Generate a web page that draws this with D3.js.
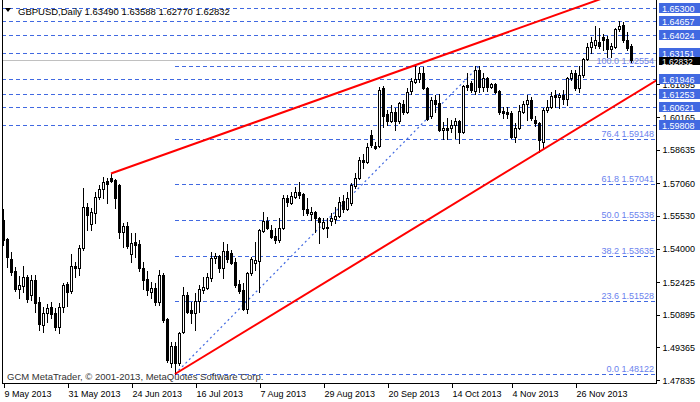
<!DOCTYPE html>
<html><head><meta charset="utf-8">
<script src="https://cdn.jsdelivr.net/npm/d3@7"></script>
<style>
body{margin:0;background:#fff}
svg{display:block}
text{font-family:"Liberation Sans",Arial,sans-serif}
</style>
</head><body>
<svg id="c" width="700" height="402"></svg>
<script>
// ---------- data ----------
const symbol = "GBPUSD,Daily";
const headerValues = [1.63490, 1.63588, 1.62770, 1.62832];
const firstDate = "2013-05-09";
const open = [1.5534,1.5445,1.5352,1.5295,1.5211,1.5225,1.5267,1.5183,1.5253,1.5150,
1.5042,1.5098,1.5126,1.5098,1.5032,1.5126,1.5234,1.5201,1.5319,1.5309,
1.5402,1.5595,1.5515,1.5567,1.5642,1.5680,1.5717,1.5731,1.5722,1.5699,
1.5478,1.5506,1.5375,1.5431,1.5421,1.5309,1.5258,1.5197,1.5216,1.5150,
1.5277,1.5070,1.4864,1.4944,1.4864,1.5010,1.5183,1.5112,1.5098,1.5154,
1.5206,1.5216,1.5262,1.5356,1.5366,1.5309,1.5389,1.5380,1.5338,1.5234,
1.5206,1.5117,1.5286,1.5333,1.5342,1.5482,1.5529,1.5487,1.5459,1.5440,
1.5496,1.5637,1.5614,1.5642,1.5666,1.5656,1.5586,1.5562,1.5572,1.5543,
1.5496,1.5501,1.5529,1.5539,1.5553,1.5623,1.5586,1.5614,1.5694,1.5731,
1.5816,1.5806,1.5933,1.5883,1.5883,1.6153,1.6031,1.5998,1.6041,1.5998,
1.6078,1.6041,1.6139,1.6181,1.6195,1.6223,1.6153,1.6022,1.6097,1.6083,
1.5956,1.5965,1.5965,1.5980,1.5998,1.5947,1.6167,1.6177,1.6139,1.6237,
1.6158,1.6200,1.6158,1.6172,1.6139,1.6045,1.6041,1.6036,1.5923,1.5965,
1.6041,1.6078,1.6097,1.6003,1.5989,1.5899,1.6050,1.6064,1.6120,1.6111,
1.6120,1.6101,1.6200,1.6223,1.6153,1.6214,1.6289,1.6345,1.6355,1.6369,
1.6392,1.6383,1.6336,1.6345,1.6430,1.6448,1.6378,1.63490];
const high = [1.5586,1.5449,1.5385,1.5314,1.5272,1.5319,1.5277,1.5277,1.5277,1.5173,
1.5126,1.5140,1.5150,1.5121,1.5145,1.5239,1.5244,1.5375,1.5338,1.5417,
1.5684,1.5614,1.5590,1.5666,1.5699,1.5736,1.5731,1.5752,1.5726,1.5703,
1.5520,1.5525,1.5473,1.5473,1.5440,1.5338,1.5295,1.5244,1.5239,1.5300,
1.5286,1.5075,1.4962,1.4962,1.5010,1.5220,1.5197,1.5150,1.5192,1.5230,
1.5267,1.5286,1.5385,1.5380,1.5371,1.5431,1.5421,1.5394,1.5356,1.5253,
1.5239,1.5291,1.5361,1.5431,1.5492,1.5572,1.5548,1.5511,1.5496,1.5543,
1.5651,1.5651,1.5666,1.5689,1.5713,1.5661,1.5637,1.5595,1.5576,1.5548,
1.5543,1.5543,1.5567,1.5595,1.5642,1.5651,1.5666,1.5708,1.5755,1.5830,
1.5844,1.5895,1.5957,1.5902,1.6158,1.6163,1.6050,1.6073,1.6059,1.6087,
1.6097,1.6153,1.6200,1.6255,1.6250,1.6250,1.6158,1.6111,1.6120,1.6125,
1.5994,1.6012,1.6003,1.6012,1.6003,1.6167,1.6223,1.6186,1.6255,1.6255,
1.6223,1.6205,1.6177,1.6177,1.6144,1.6064,1.6064,1.6045,1.5989,1.6073,
1.6092,1.6120,1.6111,1.6022,1.5994,1.6059,1.6097,1.6134,1.6144,1.6130,
1.6144,1.6205,1.6237,1.6237,1.6255,1.6294,1.6364,1.6392,1.6444,1.6434,
1.6406,1.6397,1.6364,1.6434,1.6466,1.6462,1.6415,1.63588];
const low = [1.5417,1.5314,1.5277,1.5201,1.5168,1.5197,1.5150,1.5159,1.5103,1.5019,
1.5010,1.5056,1.5074,1.5019,1.5005,1.5103,1.5131,1.5192,1.5267,1.5277,
1.5394,1.5487,1.5487,1.5520,1.5633,1.5637,1.5614,1.5713,1.5590,1.5449,
1.5407,1.5402,1.5338,1.5361,1.5295,1.5211,1.5183,1.5168,1.5135,1.5135,
1.5056,1.4868,1.4845,1.48122,1.4855,1.5004,1.5098,1.5051,1.5019,1.5103,
1.5192,1.5211,1.5248,1.5333,1.5291,1.5262,1.5338,1.5328,1.5220,1.5192,
1.5112,1.5098,1.5277,1.5300,1.5197,1.5478,1.5492,1.5449,1.5426,1.5431,
1.5492,1.5600,1.5610,1.5637,1.5637,1.5558,1.5558,1.5534,1.5478,1.5426,
1.5492,1.5454,1.5511,1.5520,1.5548,1.5572,1.5581,1.5605,1.5684,1.5726,
1.5778,1.5801,1.5877,1.5868,1.5878,1.5970,1.5980,1.5994,1.5956,1.5989,
1.6031,1.6036,1.6125,1.6177,1.6181,1.6148,1.6003,1.6012,1.6041,1.5951,
1.5914,1.5914,1.5947,1.5919,1.5895,1.5942,1.6144,1.6134,1.6125,1.6134,
1.6139,1.6139,1.6153,1.6130,1.6031,1.6012,1.6012,1.5919,1.5899,1.5961,
1.6036,1.6003,1.6003,1.5975,1.5853,1.5868,1.6041,1.6059,1.6064,1.6059,
1.6078,1.6073,1.6191,1.6144,1.6134,1.6205,1.6284,1.6317,1.6341,1.6341,
1.6331,1.6298,1.6298,1.6341,1.6420,1.6369,1.6331,1.62770];
const close = [1.5440,1.5361,1.5291,1.5211,1.5230,1.5267,1.5164,1.5253,1.5145,1.5046,
1.5098,1.5121,1.5093,1.5032,1.5126,1.5230,1.5197,1.5319,1.5309,1.5402,
1.5595,1.5558,1.5572,1.5642,1.5680,1.5713,1.5703,1.5717,1.5637,1.5478,
1.5506,1.5412,1.5426,1.5417,1.5309,1.5253,1.5206,1.5216,1.5150,1.5277,
1.5065,1.4878,1.4944,1.4864,1.5004,1.5183,1.5103,1.5098,1.5154,1.5211,
1.5220,1.5267,1.5356,1.5366,1.5309,1.5389,1.5352,1.5333,1.5230,1.5201,
1.5117,1.5286,1.5352,1.5347,1.5487,1.5529,1.5496,1.5454,1.5440,1.5496,
1.5637,1.5619,1.5647,1.5666,1.5651,1.5586,1.5567,1.5572,1.5543,1.5525,
1.5525,1.5496,1.5543,1.5553,1.5619,1.5586,1.5637,1.5699,1.5731,1.5816,
1.5806,1.5877,1.5887,1.5873,1.6144,1.6024,1.5998,1.6041,1.5998,1.6083,
1.6041,1.6134,1.6186,1.6195,1.6223,1.6153,1.6008,1.6097,1.6078,1.5956,
1.5965,1.5956,1.5980,1.5998,1.5947,1.6163,1.6158,1.6144,1.6237,1.6158,
1.6200,1.6158,1.6172,1.6134,1.6041,1.6036,1.6031,1.5923,1.5965,1.6045,
1.6078,1.6097,1.6012,1.5989,1.5909,1.6050,1.6064,1.6115,1.6111,1.6120,
1.6101,1.6200,1.6223,1.6153,1.6214,1.6289,1.6345,1.6369,1.6378,1.6350,
1.6378,1.6336,1.6350,1.6430,1.6444,1.6378,1.6341,1.62832];
const xTickDates = ["2013-05-09","2013-05-31","2013-06-24","2013-07-16","2013-08-07",
                    "2013-08-29","2013-09-20","2013-10-14","2013-11-04","2013-11-26"];
const yTickLabels = [1.47835,1.49365,1.50895,1.52425,1.54000,1.55530,1.57060,1.58635,
                     1.60165,1.61695];
const hLineLevels = [1.65300,1.64657,1.64024,1.63151,1.61946,1.61253,1.60621,1.59808];
const bidPrice = 1.62832;
const fibRatios = [0.0,23.6,38.2,50.0,61.8,76.4,100.0];
const fibAnchors = [[43,1.48122],[119,1.62554]];        // [bar index, price]
const trendUpper = [[27,1.5752],[103,1.6260]];
const trendLower = [[43,1.48122],[134,1.5853]];
const copyright = "GCM MetaTrader, \u00A9 2001-2013, MetaQuotes Software Corp.";

// ---------- layout ----------
const W = 700, H = 402;
const plotL = 2, plotR = 656, plotT = 0, plotB = 383;
const n = close.length;
const blue = "#4169E1";

const dates = [];
for (let d = d3.timeParse("%Y-%m-%d")(firstDate); dates.length < n; d = d3.timeDay.offset(d, 1)) {
  if (d.getDay() % 6 !== 0) dates.push(d);
}
const fmtKey = d3.timeFormat("%Y-%m-%d");
const idxOf = s => dates.findIndex(d => fmtKey(d) === s);

const x = d3.scaleBand().domain(d3.range(n)).range([1, 1 + 4 * n]).padding(0);
const cx = i => Math.round(x(i) + x.bandwidth() / 2);
const xi = d3.scaleLinear().domain([0, n - 1]).range([cx(0), cx(n - 1)]);
const y = d3.scaleLinear().domain([1.47700, 1.65656]).range([plotB, plotT]);
const Y = v => Math.round(y(v));

const svg = d3.select("#c");
svg.append("rect").attr("width", W).attr("height", H).attr("fill", "#fff");
svg.append("defs").append("clipPath").attr("id", "clip")
  .append("rect").attr("x", plotL).attr("y", plotT).attr("width", plotR - plotL).attr("height", plotB - plotT);
const plot = svg.append("g").attr("clip-path", "url(#clip)");

plot.selectAll("line.h").data(hLineLevels).join("line")
  .attr("x1", plotL).attr("x2", plotR)
  .attr("y1", d => Y(d) + 0.5).attr("y2", d => Y(d) + 0.5)
  .attr("stroke", blue).attr("stroke-dasharray", "4,3").attr("shape-rendering", "crispEdges");

plot.append("line").attr("x1", plotL).attr("x2", plotR)
  .attr("y1", Y(bidPrice) + 0.5).attr("y2", Y(bidPrice) + 0.5)
  .attr("stroke", "#c0c0c0").attr("shape-rendering", "crispEdges");

const fLo = fibAnchors[0][1], fHi = fibAnchors[1][1];
const fibLevels = fibRatios.map(r => ({ r, v: fLo + (fHi - fLo) * r / 100 }));
plot.selectAll("line.fib").data(fibLevels).join("line")
  .attr("x1", cx(fibAnchors[0][0])).attr("x2", plotR)
  .attr("y1", d => Y(d.v) + 0.5).attr("y2", d => Y(d.v) + 0.5)
  .attr("stroke", blue).attr("stroke-dasharray", "4,3").attr("shape-rendering", "crispEdges");
plot.selectAll("text.fib").data(fibLevels).join("text")
  .attr("x", plotR - 2).attr("y", d => Y(d.v) - 2)
  .attr("text-anchor", "end").attr("font-size", 9).attr("fill", "#6a82ee")
  .text(d => d.r.toFixed(1) + " " + d.v.toFixed(5));
plot.append("line")
  .attr("x1", cx(fibAnchors[0][0])).attr("y1", y(fibAnchors[0][1]))
  .attr("x2", cx(fibAnchors[1][0])).attr("y2", y(fibAnchors[1][1]))
  .attr("stroke", blue).attr("stroke-width", 1.2).attr("stroke-dasharray", "2,3");

const bars = plot.append("g").attr("shape-rendering", "crispEdges");
d3.range(n).forEach(i => {
  const c = cx(i);
  bars.append("line").attr("x1", c + 0.5).attr("x2", c + 0.5)
    .attr("y1", Y(high[i])).attr("y2", Y(low[i]) + 1).attr("stroke", "#000");
  const top = Y(Math.max(open[i], close[i])), bot = Y(Math.min(open[i], close[i]));
  if (close[i] >= open[i]) {
    bars.append("rect").attr("x", c - 0.5).attr("y", top + 0.5)
      .attr("width", 2).attr("height", Math.max(bot - top, 0))
      .attr("fill", "#fff").attr("stroke", "#000");
  } else {
    bars.append("rect").attr("x", c - 1).attr("y", top)
      .attr("width", 3).attr("height", Math.max(bot - top + 1, 1)).attr("fill", "#000");
  }
});

function ray(p) {
  const x0 = cx(p[0][0]), y0 = y(p[0][1]), x1 = cx(p[1][0]), y1 = y(p[1][1]);
  const k = (y1 - y0) / (x1 - x0);
  return [x0, y0, plotR + 20, y0 + k * (plotR + 20 - x0)];
}
[trendUpper, trendLower].forEach(t => {
  const r = ray(t);
  plot.append("line").attr("x1", r[0]).attr("y1", r[1]).attr("x2", r[2]).attr("y2", r[3])
    .attr("stroke", "#ff0000").attr("stroke-width", 2);
});

svg.append("path").attr("d", "M5,8 L11,8 L8,12 Z").attr("fill", "#000");
svg.append("text").attr("x", 18).attr("y", 15).attr("font-size", 9.5).attr("fill", "#000")
  .text(symbol + "  " + headerValues.map(v => v.toFixed(5)).join(" "));
svg.append("text").attr("x", 7).attr("y", 380).attr("font-size", 9.5).attr("fill", "#333")
  .text(copyright);

svg.append("line").attr("x1", plotL + 0.5).attr("x2", plotL + 0.5).attr("y1", 0).attr("y2", plotB)
  .attr("stroke", "#000").attr("shape-rendering", "crispEdges");

const fmtDate = d3.timeFormat("%-d %b %Y");
const xAxis = d3.axisBottom(xi)
  .tickValues(xTickDates.map(idxOf))
  .tickFormat(i => fmtDate(dates[i])).tickSize(4).tickSizeOuter(0);
const gx = svg.append("g").attr("transform", `translate(0,${plotB + 0.5})`).call(xAxis)
  .attr("shape-rendering", "crispEdges");
gx.select(".domain").attr("d", `M${plotL},0H${plotR + 1}`).attr("stroke", "#000");
gx.selectAll(".tick line").attr("stroke", "#000").attr("transform", "translate(0.5,0)");
gx.selectAll(".tick text").attr("text-anchor", "start").attr("x", 1).attr("y", 7)
  .attr("font-size", 9).attr("font-family", "Liberation Sans, Arial, sans-serif").attr("fill", "#000");

const yAxis = d3.axisRight(y).tickValues(yTickLabels).tickFormat(d3.format(".5f"))
  .tickSize(3).tickSizeOuter(0);
const gy = svg.append("g").attr("transform", `translate(${plotR + 0.5},0)`).call(yAxis)
  .attr("shape-rendering", "crispEdges");
gy.select(".domain").attr("d", `M0,0V${plotB + 1}`).attr("stroke", "#000");
gy.selectAll(".tick line").attr("stroke", "#000");
gy.selectAll(".tick text").attr("x", 6).attr("font-size", 9)
  .attr("font-family", "Liberation Sans, Arial, sans-serif").attr("fill", "#000");

const boxes = hLineLevels.map(v => ({ v, bg: blue })).concat([{ v: bidPrice, bg: "#000" }]);
const gb = svg.append("g");
boxes.forEach(b => {
  const yy = Y(b.v);
  const isBid = b.bg === "#000";
  gb.append("rect").attr("x", plotR + 3).attr("y", isBid ? yy - 3 : yy - 5)
    .attr("width", W - plotR - 3).attr("height", isBid ? 8 : 10)
    .attr("fill", b.bg).attr("shape-rendering", "crispEdges");
  gb.append("text").attr("x", plotR + 6).attr("y", isBid ? yy + 4.5 : yy + 3.5)
    .attr("font-size", isBid ? 8.5 : 9).attr("fill", "#fff").text(b.v.toFixed(5));
});
</script>
</body></html>
